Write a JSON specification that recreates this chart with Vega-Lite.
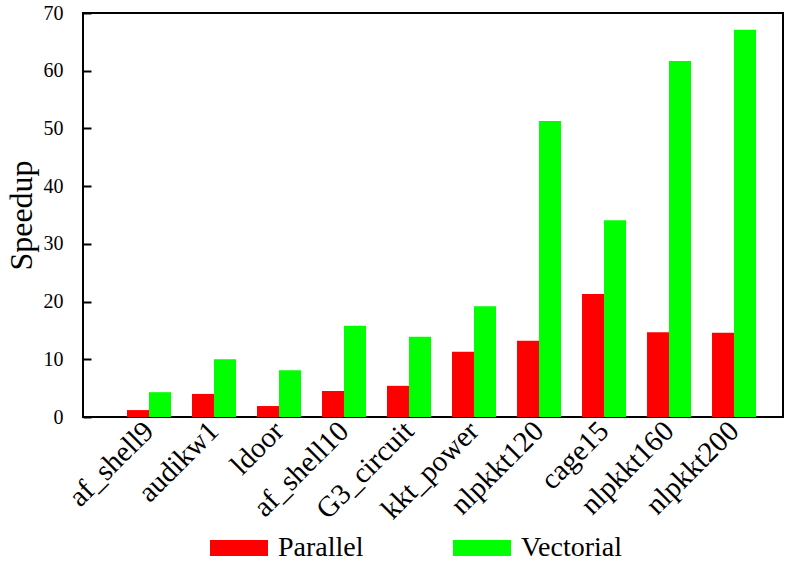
{
  "$schema": "https://vega.github.io/schema/vega-lite/v6.json",
  "autosize": {"type": "none"},
  "padding": {"left": 83, "top": 13, "right": 9, "bottom": 144},
  "width": 700,
  "height": 404,
  "background": "white",
  "config": {
    "font": "Liberation Serif",
    "view": {"stroke": "black", "strokeWidth": 2},
    "axis": {"grid": false, "labelColor": "black", "titleColor": "black", "labelFont": "Liberation Serif", "titleFont": "Liberation Serif", "titleFontWeight": "normal"},
    "legend": {"labelFont": "Liberation Serif"}
  },
  "data": {
    "values": [
      {"matrix": "af_shell9", "type": "Parallel", "speedup": 1.2},
      {"matrix": "af_shell9", "type": "Vectorial", "speedup": 4.3},
      {"matrix": "audikw1", "type": "Parallel", "speedup": 4.0},
      {"matrix": "audikw1", "type": "Vectorial", "speedup": 10.0},
      {"matrix": "ldoor", "type": "Parallel", "speedup": 1.9},
      {"matrix": "ldoor", "type": "Vectorial", "speedup": 8.1},
      {"matrix": "af_shell10", "type": "Parallel", "speedup": 4.5},
      {"matrix": "af_shell10", "type": "Vectorial", "speedup": 15.8},
      {"matrix": "G3_circuit", "type": "Parallel", "speedup": 5.4},
      {"matrix": "G3_circuit", "type": "Vectorial", "speedup": 13.9},
      {"matrix": "kkt_power", "type": "Parallel", "speedup": 11.3},
      {"matrix": "kkt_power", "type": "Vectorial", "speedup": 19.2},
      {"matrix": "nlpkkt120", "type": "Parallel", "speedup": 13.2},
      {"matrix": "nlpkkt120", "type": "Vectorial", "speedup": 51.3},
      {"matrix": "cage15", "type": "Parallel", "speedup": 21.3},
      {"matrix": "cage15", "type": "Vectorial", "speedup": 34.1},
      {"matrix": "nlpkkt160", "type": "Parallel", "speedup": 14.7},
      {"matrix": "nlpkkt160", "type": "Vectorial", "speedup": 61.7},
      {"matrix": "nlpkkt200", "type": "Parallel", "speedup": 14.6},
      {"matrix": "nlpkkt200", "type": "Vectorial", "speedup": 67.1}
    ]
  },
  "mark": {"type": "bar"},
  "encoding": {
    "x": {
      "field": "matrix", "type": "nominal", "sort": null,
      "scale": {"paddingInner": 0.323, "paddingOuter": 0.546, "align": 0.62},
      "axis": {"title": null, "ticks": false, "domain": false, "labelAngle": -45, "labelAlign": "right", "labelBaseline": "middle", "labelFontSize": 29, "labelPadding": 9, "labelLimit": 300}
    },
    "xOffset": {"field": "type", "type": "nominal", "scale": {"paddingInner": 0, "paddingOuter": 0}},
    "y": {
      "field": "speedup", "type": "quantitative",
      "scale": {"domain": [0, 70], "nice": false},
      "axis": {"title": "Speedup", "values": [0, 10, 20, 30, 40, 50, 60, 70], "domain": false, "tickSize": -8, "tickWidth": 2, "tickColor": "black", "labelFontSize": 20, "labelPadding": 28, "titleFontSize": 32, "titlePadding": 5}
    },
    "color": {
      "field": "type", "type": "nominal",
      "scale": {"domain": ["Parallel", "Vectorial"], "range": ["#ff0000", "#00ff00"]},
      "legend": {
        "title": null, "orient": "none", "direction": "horizontal",
        "legendX": 127, "legendY": 506, "padding": 0,
        "symbolType": "M-1,-0.276H1V0.276H-1Z", "symbolSize": 3364, "symbolStrokeWidth": 0,
        "labelFontSize": 28, "labelOffset": 10, "columnPadding": 89, "labelColor": "black", "labelLimit": 300
      }
    }
  }
}
